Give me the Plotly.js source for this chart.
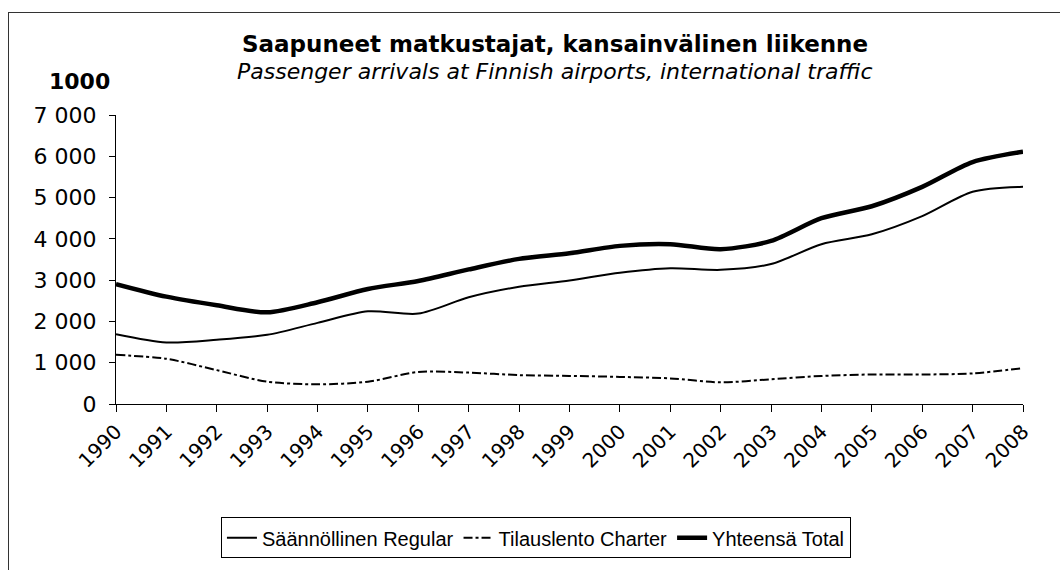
<!DOCTYPE html>
<html>
<head>
<meta charset="utf-8">
<script src="https://cdn.plot.ly/plotly-3.0.1.min.js"></script>
<style>
  html, body { margin: 0; padding: 0; background: #fff; }
  #wrap { position: relative; width: 1060px; height: 570px; }
  #chart { width: 1060px; height: 570px; }
  #frame { position: absolute; left: 8px; top: 12px; width: 1070px; height: 580px;
           border: 1.5px solid #333; pointer-events: none; box-sizing: border-box; }
</style>
</head>
<body>
<div id="wrap">
  <div id="chart"></div>
  <div id="frame"></div>
</div>
<script>
const years = [1990,1991,1992,1993,1994,1995,1996,1997,1998,1999,2000,2001,2002,2003,2004,2005,2006,2007,2008];
const regular = [1690,1490,1555,1675,1965,2245,2190,2585,2840,2990,3180,3290,3250,3390,3870,4110,4550,5140,5260];
const charter = [1190,1095,820,540,476,540,775,760,700,680,657,620,525,600,680,715,715,740,870];
const total   = [2905,2600,2390,2220,2465,2785,2980,3260,3515,3650,3830,3870,3750,3950,4500,4790,5260,5860,6110];
const yTickVals = [0,1000,2000,3000,4000,5000,6000,7000];
const yTickText = ['0','1 000','2 000','3 000','4 000','5 000','6 000','7 000'];
const xTickText = years.map(String);

const names = ['Säännöllinen Regular', 'Tilauslento Charter', 'Yhteensä Total'];

const traces = [
  { x: years, y: regular, name: names[0], type: 'scatter', mode: 'lines',
    line: { color: '#000', width: 2, shape: 'spline', smoothing: 0.8 } },
  { x: years, y: charter, name: names[1], type: 'scatter', mode: 'lines',
    line: { color: '#000', width: 2, dash: 'dashdot', shape: 'spline', smoothing: 0.8 } },
  { x: years, y: total, name: names[2], type: 'scatter', mode: 'lines',
    line: { color: '#000', width: 4.5, shape: 'spline', smoothing: 0.8 } }
];

const wide = 'DejaVu Sans, Verdana, sans-serif';
const legendFont = 'Liberation Sans, Arial, sans-serif';
const layout = {
  width: 1060, height: 570,
  margin: { l: 116, r: 37, t: 115, b: 161 },
  paper_bgcolor: '#fff', plot_bgcolor: '#fff',
  font: { family: wide, size: 20, color: '#000' },
  showlegend: true,
  legend: {
    orientation: 'h', x: 0.463, y: -0.463, xanchor: 'center', yanchor: 'middle',
    bordercolor: '#000', borderwidth: 1, bgcolor: '#fff',
    font: { family: legendFont, size: 20, color: '#000' },
    tracegroupgap: 0
  },
  xaxis: {
    range: [1990, 2008], tickvals: years, ticktext: xTickText, tickangle: -45,
    showgrid: false, zeroline: false, showline: true, linecolor: '#000', linewidth: 1,
    ticks: 'outside', ticklen: 7, tickcolor: '#000',
    tickfont: { family: wide, size: 20, color: '#000' }
  },
  yaxis: {
    range: [0, 7000], tickvals: yTickVals, ticktext: yTickText,
    showgrid: false, zeroline: false, showline: true, linecolor: '#000', linewidth: 1,
    ticks: 'outside', ticklen: 6, tickcolor: '#000', ticklabelstandoff: 8,
    tickfont: { family: wide, size: 22, color: '#000' }
  },
  annotations: [
    { text: '<b>Saapuneet matkustajat, kansainvälinen liikenne</b>', xref: 'paper', yref: 'paper',
      x: 0.484, y: 1.245, xanchor: 'center', yanchor: 'middle', showarrow: false,
      font: { family: wide, size: 23, color: '#000' } },
    { text: '<i>Passenger arrivals at Finnish airports, international traffic</i>', xref: 'paper', yref: 'paper',
      x: 0.484, y: 1.152, xanchor: 'center', yanchor: 'middle', showarrow: false,
      font: { family: wide, size: 22, color: '#000' } },
    { text: '<b>1000</b>', xref: 'paper', yref: 'paper',
      x: -0.004, y: 1.115, xanchor: 'right', yanchor: 'middle', showarrow: false,
      font: { family: wide, size: 22, color: '#000' } }
  ]
};

Plotly.newPlot('chart', traces, layout, { staticPlot: true });
</script>
</body>
</html>
